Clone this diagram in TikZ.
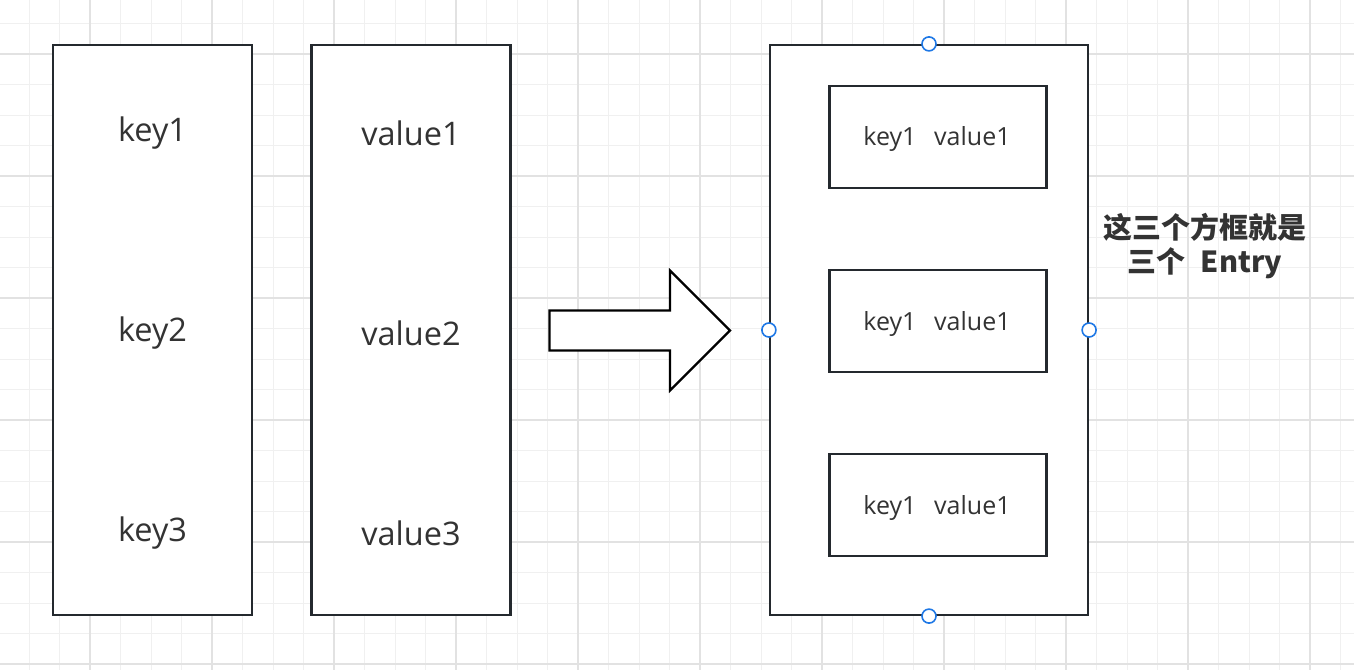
\documentclass[tikz,border=0pt]{standalone}
\usepackage{fontspec}
\setmainfont{Open Sans}
\newfontfamily\cjkfont{Noto Sans CJK SC}
\definecolor{gridminor}{RGB}{240,240,240}
\definecolor{gridmajor}{RGB}{226,226,226}
\definecolor{stroke}{RGB}{36,41,46}
\definecolor{txt}{RGB}{51,51,51}
\definecolor{handle}{RGB}{30,120,230}
\tikzset{
  colbox/.style={draw=stroke, line width=2.2pt, fill=white, minimum width=199pt, minimum height=570pt, inner sep=0pt},
  entrybox/.style={draw=stroke, line width=2.2pt, fill=white, minimum width=217pt, minimum height=102pt, inner sep=0pt},
  entrytxt/.style={text=txt, font=\fontsize{25}{29}\selectfont, inner sep=0pt},
  bigtxt/.style={text=txt, font=\fontsize{32.5}{38}\selectfont, inner sep=0pt},
  handlept/.style={circle, draw=handle, line width=1.6pt, fill=white, minimum size=14pt, inner sep=0pt},
}
\begin{document}
\begin{tikzpicture}[x=1pt,y=-1pt]
\useasboundingbox (0,0) rectangle (1354,670);
\fill[white] (0,0) rectangle (1354,670);
% grid
\foreach \i in {0,...,45}{
  \pgfmathsetmacro\gx{-1.5+30.5*\i}
  \draw[gridminor, line width=1pt] (\gx,0) -- (\gx,670);
}
\foreach \i in {0,...,22}{
  \pgfmathsetmacro\gy{-7+30.5*\i}
  \draw[gridminor, line width=1pt] (0,\gy) -- (1354,\gy);
}
\foreach \i in {0,...,10}{
  \pgfmathsetmacro\gx{90+122*\i}
  \draw[gridmajor, line width=1.2pt] (\gx,0) -- (\gx,670);
}
\foreach \i in {0,...,5}{
  \pgfmathsetmacro\gy{54+122*\i}
  \draw[gridmajor, line width=1.2pt] (0,\gy) -- (1354,\gy);
}
% left columns
\node[colbox] (keys) at (152.5,330) {};
\node[colbox] (vals) at (411,330) {};
\node[bigtxt] (k1) at (152.5,133.5) {key1};
\node[bigtxt] (k2) at (152.5,333.5) {key2};
\node[bigtxt] (k3) at (152.5,533.5) {key3};
\node[bigtxt] (v1) at (411,133.5) {value1};
\node[bigtxt] (v2) at (411,333.5) {value2};
\node[bigtxt] (v3) at (411,533.5) {value3};
% arrow
\draw[stroke, line width=2.2pt, fill=white, line join=miter]
  (549.5,310.5) -- (670,310.5) -- (670,270.5) -- (730,330.5) -- (670,390.5) -- (670,350.5) -- (549.5,350.5) -- cycle;
% big container
\node[draw=stroke, line width=2.2pt, fill=white, minimum width=318pt, minimum height=570pt, inner sep=0pt] (big) at (929,330) {};
\node[entrybox] (e1) at (938,137) {};
\node[entrybox] (e2) at (938,321) {};
\node[entrybox] (e3) at (938,505) {};
\node[entrytxt] (t1) at (937,139.5) {key1\hspace{0.45em} value1};
\node[entrytxt] (t2) at (937,323.5) {key1\hspace{0.45em} value1};
\node[entrytxt] (t3) at (937,507.5) {key1\hspace{0.45em} value1};
\node[handlept] (hn) at (big.north) {};
\node[handlept] (hs) at (big.south) {};
\node[handlept] (hw) at (big.west) {};
\node[handlept] (he) at (big.east) {};
% label
\node[text=txt, font=\cjkfont\bfseries\fontsize{29}{34}\selectfont, align=center, inner sep=0pt] (lbl) at (1205,246) {这三个方框就是\\三个\hspace{0.3em} Entry};
\end{tikzpicture}
\end{document}
